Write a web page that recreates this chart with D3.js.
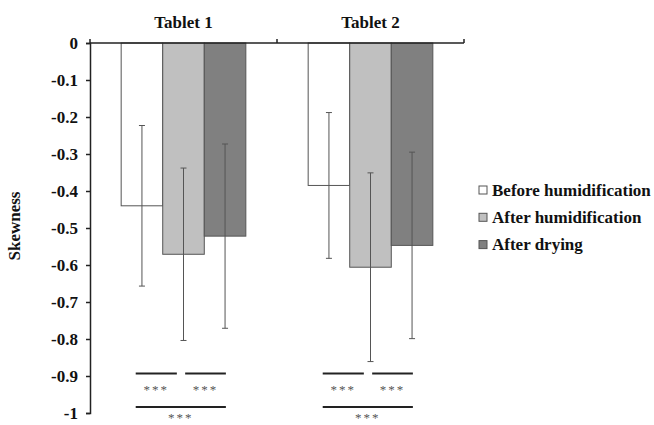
<html>
<head>
<script src="https://cdn.jsdelivr.net/npm/d3@7"></script>
<style>
  body { margin: 0; background: #fff; }
  text { font-family: "Liberation Serif", "Times New Roman", serif; }
</style>
</head>
<body>
<div id="chart"></div>
<script>

// data
var tablets = ["Tablet 1", "Tablet 2"];
var seriesNames = ["Before humidification", "After humidification", "After drying"];
var seriesColors = ["#ffffff", "#c0c0c0", "#808080"];
var beforeHum = [-0.44, -0.385];
var afterHum = [-0.571, -0.606];
var afterDry = [-0.522, -0.547];
var sdBefore = [0.217, 0.197];
var sdHum = [0.233, 0.255];
var sdDry = [0.249, 0.252];
var yTicks = [0, -0.1, -0.2, -0.3, -0.4, -0.5, -0.6, -0.7, -0.8, -0.9, -1];
// significance brackets: pair of series, level on the y scale
var sigPairs = [[0, 1], [1, 2], [0, 2]];
var sigLevels = [-0.893, -0.893, -0.984];
var sigLabels = ["***", "***", "***"];

var means = [beforeHum, afterHum, afterDry];
var sds = [sdBefore, sdHum, sdDry];

var W = 654, H = 425;
var FS = "17px";
var svg = d3.select("#chart").append("svg")
  .attr("width", W).attr("height", H);

var x = d3.scaleBand().domain(tablets).range([90, 464]);
var xs = d3.scaleBand().domain(d3.range(seriesNames.length))
  .range([0, x.bandwidth()]).paddingInner(0).paddingOuter(0.75);
var y = d3.scaleLinear().domain([0, -1]).range([43, 413]);

var bars = [];
tablets.forEach(function(t, ti) {
  seriesNames.forEach(function(s, si) {
    bars.push({ t: t, si: si, v: means[si][ti], sd: sds[si][ti] });
  });
});

function cx(t, si) { return x(t) + xs(si) + xs.bandwidth() / 2; }

// bars
svg.append("g").selectAll("rect")
  .data(bars).enter().append("rect")
  .attr("x", d => x(d.t) + xs(d.si))
  .attr("y", y(0))
  .attr("width", xs.bandwidth())
  .attr("height", d => y(d.v) - y(0))
  .attr("fill", d => seriesColors[d.si])
  .attr("stroke", "#555")
  .attr("stroke-width", 1);

// error bars
var eb = svg.append("g").attr("stroke", "#555").attr("stroke-width", 1);
eb.selectAll("line.v").data(bars).enter().append("line")
  .attr("x1", d => cx(d.t, d.si)).attr("x2", d => cx(d.t, d.si))
  .attr("y1", d => y(d.v + d.sd)).attr("y2", d => y(d.v - d.sd));
eb.selectAll("line.top").data(bars).enter().append("line")
  .attr("x1", d => cx(d.t, d.si) - 3).attr("x2", d => cx(d.t, d.si) + 3)
  .attr("y1", d => y(d.v + d.sd)).attr("y2", d => y(d.v + d.sd));
eb.selectAll("line.bot").data(bars).enter().append("line")
  .attr("x1", d => cx(d.t, d.si) - 3).attr("x2", d => cx(d.t, d.si) + 3)
  .attr("y1", d => y(d.v - d.sd)).attr("y2", d => y(d.v - d.sd));

// y axis
var yAxis = d3.axisLeft(y).tickValues(yTicks).tickSize(4).tickPadding(8)
  .tickFormat(d => d === 0 ? "0" : String(+d.toFixed(1)));
var ga = svg.append("g").attr("transform", "translate(90,0)").call(yAxis)
  .attr("font-family", null).attr("font-size", null);
ga.select(".domain").attr("stroke", "#222").attr("stroke-width", 1.5);
ga.selectAll(".tick line").attr("stroke", "#222").attr("stroke-width", 1.5);
ga.selectAll(".tick text")
  .style("font-size", FS).style("font-weight", "bold").attr("fill", "#111");

// top category axis
var edges = [x.range()[0]].concat(tablets.map(t => x(t) + x.bandwidth()));
svg.append("line").attr("x1", x.range()[0]).attr("x2", x.range()[1])
  .attr("y1", y(0)).attr("y2", y(0)).attr("stroke", "#222").attr("stroke-width", 1.5);
svg.selectAll("line.xt").data(edges).enter().append("line")
  .attr("x1", d => d).attr("x2", d => d)
  .attr("y1", y(0)).attr("y2", y(0) - 4)
  .attr("stroke", "#222").attr("stroke-width", 1.5);
svg.selectAll("text.cat").data(tablets).enter().append("text")
  .attr("x", d => x(d) + x.bandwidth() / 2)
  .attr("y", 28)
  .attr("text-anchor", "middle")
  .style("font-size", FS).style("font-weight", "bold").attr("fill", "#111")
  .text(d => d);

// y label
svg.append("text")
  .attr("transform", "translate(20,226) rotate(-90)")
  .attr("text-anchor", "middle")
  .style("font-size", FS).style("font-weight", "bold").attr("fill", "#111")
  .text("Skewness");

// significance brackets
var sig = [];
tablets.forEach(function(t) {
  sigPairs.forEach(function(p, i) {
    sig.push({ t: t, a: p[0], b: p[1], lvl: sigLevels[i], lab: sigLabels[i] });
  });
});
var bw = xs.bandwidth();
function sx1(d) { return cx(d.t, d.a) + (d.a === 0 ? -0.15 : 0.04) * bw; }
function sx2(d) { return cx(d.t, d.b) + (d.b === 1 ? -0.16 : 0.02) * bw; }
svg.selectAll("line.sig").data(sig).enter().append("line")
  .attr("x1", sx1).attr("x2", sx2)
  .attr("y1", d => y(d.lvl)).attr("y2", d => y(d.lvl))
  .attr("stroke", "#222").attr("stroke-width", 2);
svg.selectAll("text.sig").data(sig).enter().append("text")
  .attr("x", d => (sx1(d) + sx2(d)) / 2)
  .attr("y", d => Math.min(y(d.lvl) + 21, H - 3))
  .attr("text-anchor", "middle")
  .style("font-size", "13px").style("letter-spacing", "2px").attr("fill", "#555")
  .text(d => d.lab);

// legend
var lg = svg.append("g").attr("transform", "translate(479,190)");
var items = lg.selectAll("g").data(seriesNames).enter().append("g")
  .attr("transform", (d, i) => "translate(0," + (i * 27.3) + ")");
items.append("rect").attr("x", 0).attr("y", -4).attr("width", 8).attr("height", 8)
  .attr("fill", (d, i) => seriesColors[i]).attr("stroke", "#555").attr("stroke-width", 1);
items.append("text").attr("x", 13).attr("y", 5.5)
  .style("font-size", FS).style("font-weight", "bold").attr("fill", "#111")
  .text(d => d);

</script>
</body>
</html>
